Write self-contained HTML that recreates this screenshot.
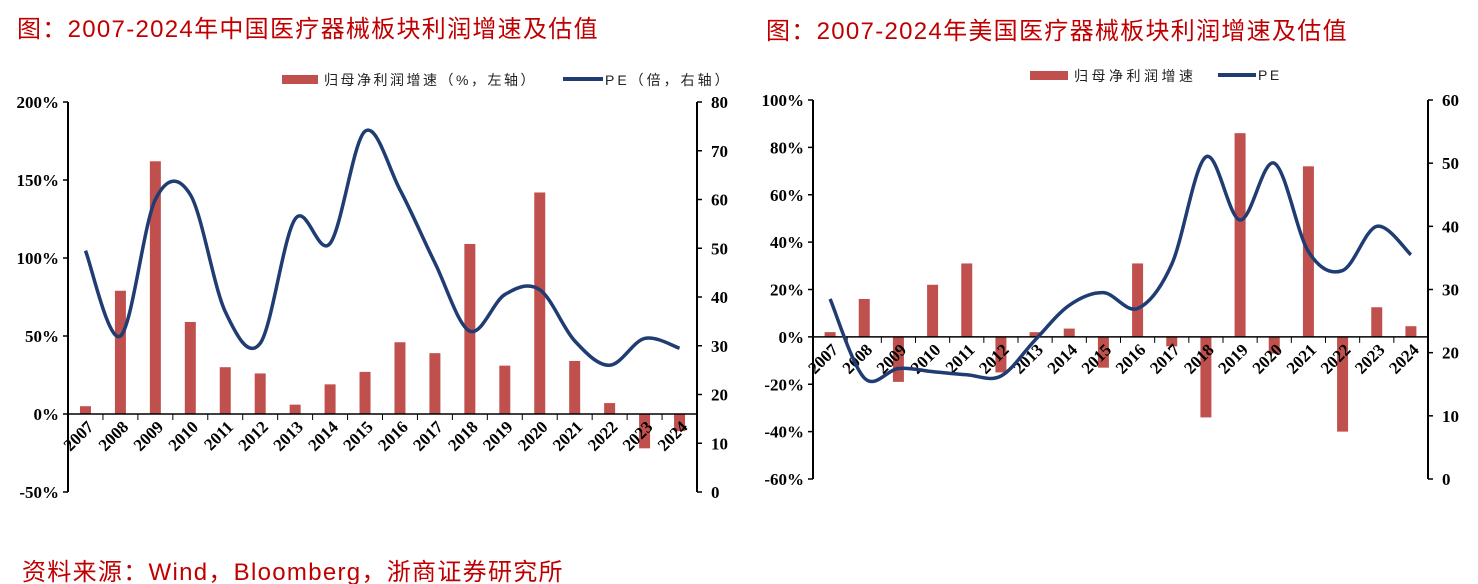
<!DOCTYPE html>
<html><head><meta charset="utf-8"><style>
body{margin:0;background:#fff;width:1478px;height:584px;overflow:hidden}
svg{position:absolute;left:0;top:0}
.t{font-family:"Liberation Sans","Noto Sans CJK SC",sans-serif;fill:#c00000;font-size:24px;letter-spacing:1.3px}
.ax{font-family:"Liberation Serif",serif;font-weight:bold;font-size:17px;fill:#000}
.lg{font-family:"Liberation Sans","Noto Sans CJK SC",sans-serif;font-size:14px;fill:#222;letter-spacing:2.5px}
</style></head><body>
<svg id="s" width="1478" height="584" xmlns="http://www.w3.org/2000/svg">
<text class="t" x="17" y="37">图：2007-2024年中国医疗器械板块利润增速及估值</text>
<text class="t" x="766" y="39">图：2007-2024年美国医疗器械板块利润增速及估值</text>
<text class="t" x="22" y="580">资料来源：Wind，Bloomberg，浙商证券研究所</text>
<rect x="282" y="75" width="36" height="9" fill="#c0504d"/>
<text class="lg" x="324" y="85">归母净利润增速（%，左轴）</text>
<line x1="563" y1="79" x2="603" y2="79" stroke="#1f3c73" stroke-width="4"/>
<text class="lg" x="605" y="85" style="letter-spacing:3px">PE（倍，右轴）</text>
<rect x="1030" y="71" width="38" height="9" fill="#c0504d"/>
<text class="lg" x="1074" y="81" style="letter-spacing:3.5px">归母净利润增速</text>
<line x1="1218" y1="75" x2="1256" y2="75" stroke="#1f3c73" stroke-width="4"/>
<text class="lg" x="1258" y="80">PE</text>
</svg>
<script>
var S=document.getElementById('s'),NS='http://www.w3.org/2000/svg';
function el(n,a,t){var e=document.createElementNS(NS,n);for(var k in a)e.setAttribute(k,a[k]);if(t!=null)e.textContent=t;S.appendChild(e);return e;}
function chart(c){
 var n=18,w=(c.xr-c.xl)/n;
 var yl=function(v){return c.y0+(v-c.lmin)/(c.lmax-c.lmin)*(c.y1-c.y0);} ;
 var yr=function(v){return c.y0+(v-c.rmin)/(c.rmax-c.rmin)*(c.y1-c.y0);} ;
 el('line',{x1:c.xl,y1:c.y0,x2:c.xl,y2:c.y1,stroke:'#000','stroke-width':2});
 el('line',{x1:c.xr,y1:c.y0,x2:c.xr,y2:c.y1,stroke:'#000','stroke-width':2});
 for(var v=c.lmin;v<=c.lmax+1e-9;v+=c.lstep){var y=yl(v);el('line',{x1:c.xl-5,y1:y,x2:c.xl,y2:y,stroke:'#000','stroke-width':1.5});el('text',{x:c.xl-9,y:y+6,'text-anchor':'end','class':'ax'},Math.round(v)+'%');}
 for(var v=c.rmin;v<=c.rmax+1e-9;v+=10){var y=yr(v);el('line',{x1:c.xr,y1:y,x2:c.xr+5,y2:y,stroke:'#000','stroke-width':1.5});el('text',{x:c.xr+14,y:y+6,'class':'ax'},v);}
 var z=yl(0);
 for(var i=0;i<n;i++){var cx=c.xl+w*(i+0.5),b=c.bars[i],y=yl(b);
  el('rect',{x:cx-5.5,y:Math.min(y,z),width:11,height:Math.abs(z-y),fill:'#c0504d'});}
 el('line',{x1:c.xl,y1:z,x2:c.xr,y2:z,stroke:'#000','stroke-width':1.5});
 for(var i=0;i<=n;i++){var x=c.xl+w*i;el('line',{x1:x,y1:z,x2:x,y2:z+6,stroke:'#000','stroke-width':1});}
 for(var i=0;i<n;i++){var cx=c.xl+w*(i+0.5);el('text',{x:cx+9,y:z+14,'text-anchor':'end','class':'ax',transform:'rotate(-45 '+(cx+9)+' '+(z+14)+')'},2007+i);}
 var P=c.pe.map(function(v,i){return [c.xl+w*(i+0.5),yr(v)];});
 var d='M'+P[0][0]+','+P[0][1];
 for(var i=0;i<n-1;i++){var p0=P[Math.max(0,i-1)],p1=P[i],p2=P[i+1],p3=P[Math.min(n-1,i+2)];
  d+=' C'+(p1[0]+(p2[0]-p0[0])/6)+','+(p1[1]+(p2[1]-p0[1])/6)+' '+(p2[0]-(p3[0]-p1[0])/6)+','+(p2[1]-(p3[1]-p1[1])/6)+' '+p2[0]+','+p2[1];}
 el('path',{d:d,fill:'none',stroke:'#1f3c73','stroke-width':3.5});
}
chart({xl:68,xr:697,y0:492,y1:102,lmin:-50,lmax:200,lstep:50,rmin:0,rmax:80,
 bars:[5,79,162,59,30,26,6,19,27,46,39,109,31,142,34,7,-22,-11],
 pe:[49.5,32,60,61,37,30.5,56,51,74,62,47,33,40.5,41.5,31,26,31.5,29.5]});
chart({xl:813,xr:1428,y0:479,y1:100,lmin:-60,lmax:100,lstep:20,rmin:0,rmax:60,
 bars:[2,16,-19,22,31,-15,2,3.5,-13,31,-4,-34,86,-7,72,-40,12.5,4.5],
 pe:[28.5,16,17.5,17,16.5,16.3,22,27.5,29.5,27,34,51,41,50,36,33,40,35.5]});
</script>
</body></html>
